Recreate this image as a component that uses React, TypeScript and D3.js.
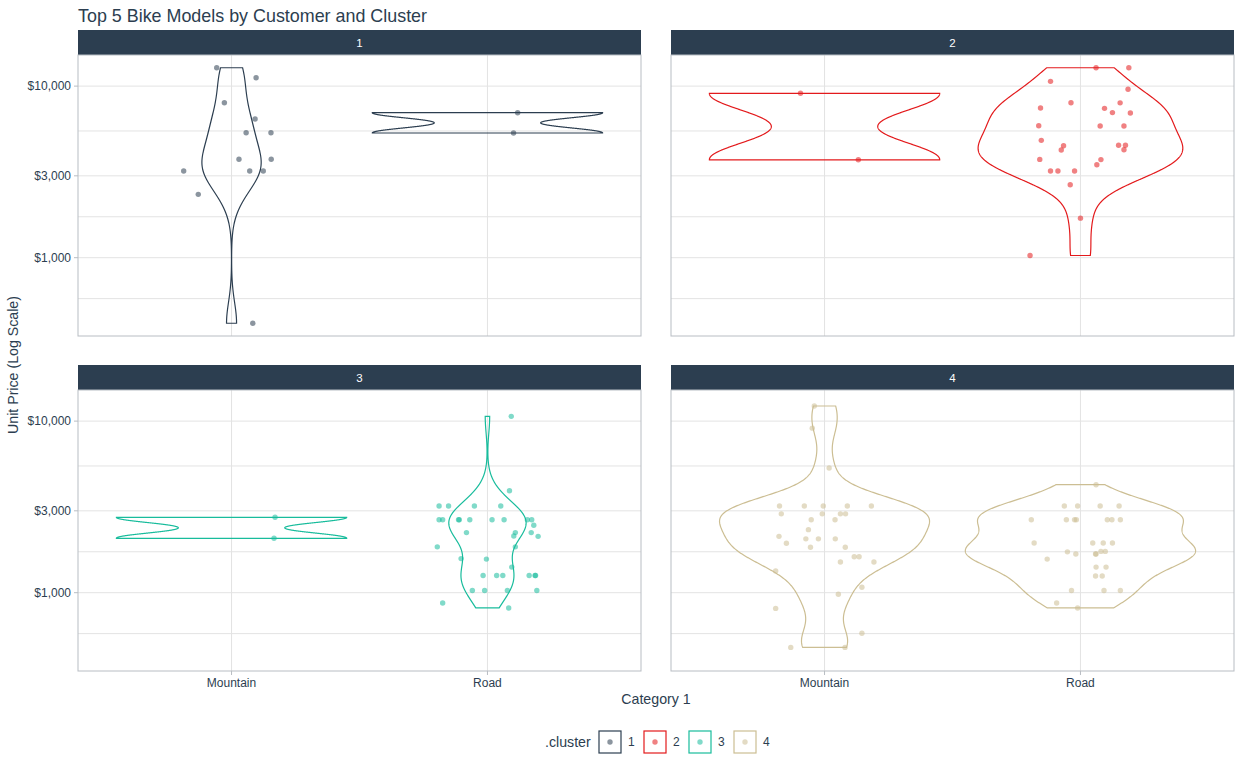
import React from "react";
import * as d3 from "d3";

// ---------------- DATA ----------------
const categories = ["Mountain", "Road"];
const clusters = ["1", "2", "3", "4"];
const clusterColors = ["#2c3e50", "#e31a1c", "#18BC9C", "#CCBE93"];
const yTickValues = [1000, 3000, 10000];

// cluster 1
const c1MountainPrice = [12790, 11190, 8000, 6430, 5350, 5350, 3745, 3745, 3200, 3200, 3200, 2340, 415];
const c1MountainJitter = [-0.058, 0.096, -0.028, 0.092, 0.057, 0.154, 0.029, 0.155, -0.187, 0.071, 0.124, -0.13, 0.083];
const c1RoadPrice = [7000, 5330];
const c1RoadJitter = [0.118, 0.102];

// cluster 2
const c2MountainPrice = [9080, 3720];
const c2MountainJitter = [-0.094, 0.132];
const c2RoadPrice = [12790, 12790, 10660, 9590, 8000, 7990, 7460, 7420, 7010, 6970, 5870, 5850, 5850, 4830, 4490, 4240, 4520, 4520, 4260, 3740, 3730, 3480, 3200, 3200, 3200, 2660, 1700, 1030];
const c2RoadJitter = [0.061, 0.189, -0.117, 0.186, -0.037, 0.155, -0.156, 0.094, 0.125, 0.195, -0.163, 0.077, 0.17, -0.153, -0.066, -0.075, 0.149, 0.176, 0.17, -0.159, 0.08, 0.064, -0.117, -0.088, -0.023, -0.04, 0.0, -0.197];

// cluster 3
const c3MountainPrice = [2750, 2075];
const c3MountainJitter = [0.17, 0.166];
const c3RoadPrice = [10660, 3930, 3200, 3200, 3200, 3200, 2660, 2660, 2660, 2660, 2660, 2660, 2660, 2660, 2660, 2470, 2240, 2240, 2140, 2240, 2130, 1850, 1850, 1580, 1570, 1410, 1260, 1260, 1260, 1260, 1260, 1260, 1030, 1030, 1030, 1030, 870, 815];
const c3RoadJitter = [0.093, 0.086, -0.189, -0.152, -0.051, 0.052, -0.189, -0.175, -0.113, -0.11, -0.069, 0.018, 0.065, 0.156, 0.173, 0.181, -0.082, 0.109, 0.103, 0.171, 0.198, -0.196, 0.109, -0.103, -0.004, 0.095, -0.017, 0.036, 0.06, 0.163, 0.186, 0.188, -0.059, -0.011, 0.078, 0.193, -0.175, 0.083];

// cluster 4
const c4MountainPrice = [12250, 9100, 5330, 3200, 3200, 3200, 3200, 3200, 2880, 2880, 2880, 2880, 2660, 2660, 2330, 2130, 2060, 2060, 2060, 1940, 1840, 1840, 1620, 1620, 1510, 1510, 1340, 1075, 980, 810, 580, 480, 480];
const c4MountainJitter = [-0.04, -0.048, 0.018, -0.176, -0.079, -0.005, 0.089, 0.183, -0.169, -0.009, 0.062, 0.082, -0.052, 0.041, -0.063, -0.178, -0.073, -0.024, 0.042, -0.149, -0.055, 0.081, 0.116, 0.135, 0.062, 0.193, -0.191, 0.146, 0.054, -0.191, 0.146, -0.132, 0.08];
const c4RoadPrice = [4260, 3200, 3200, 3200, 3200, 2660, 2660, 2660, 2660, 2660, 2660, 2660, 1950, 1950, 1950, 1950, 1730, 1680, 1680, 1680, 1740, 1740, 1570, 1410, 1410, 1250, 1250, 1030, 1030, 1030, 870, 815];
const c4RoadJitter = [0.061, -0.063, -0.011, 0.077, 0.151, -0.192, -0.055, -0.023, -0.016, 0.105, 0.123, 0.156, -0.181, 0.048, 0.089, 0.125, -0.051, -0.018, 0.059, 0.061, 0.08, 0.097, -0.13, 0.061, 0.1, 0.059, 0.085, -0.035, 0.092, 0.156, -0.093, -0.011];

const groups = [
  { cluster: "1", category: "Mountain", price: c1MountainPrice, jitter: c1MountainJitter },
  { cluster: "1", category: "Road", price: c1RoadPrice, jitter: c1RoadJitter },
  { cluster: "2", category: "Mountain", price: c2MountainPrice, jitter: c2MountainJitter },
  { cluster: "2", category: "Road", price: c2RoadPrice, jitter: c2RoadJitter },
  { cluster: "3", category: "Mountain", price: c3MountainPrice, jitter: c3MountainJitter },
  { cluster: "3", category: "Road", price: c3RoadPrice, jitter: c3RoadJitter },
  { cluster: "4", category: "Mountain", price: c4MountainPrice, jitter: c4MountainJitter },
  { cluster: "4", category: "Road", price: c4RoadPrice, jitter: c4RoadJitter },
];

// ---------------- LAYOUT ----------------
const W = 1242;
const H = 768;
const panelLefts = [78, 671];
const panelW = 563;
const stripTops = [30, 365];
const stripH = 25;
const panelH = 281;
const FONT = "'Liberation Sans', Arial, Helvetica, sans-serif";
const TEXT = "#2c3e50";
const GRID = "#e3e3e3";
const BORDER = "#b8bdc3";

function bwNrd0(x: number[]) {
  const n = x.length;
  const hi = d3.deviation(x) || 0;
  const s = x.slice().sort(d3.ascending);
  const iqr = (d3.quantileSorted(s, 0.75) as number) - (d3.quantileSorted(s, 0.25) as number);
  let lo = Math.min(hi, iqr / 1.34);
  if (!lo) lo = hi || Math.abs(x[0]) || 1;
  return 0.9 * lo * Math.pow(n, -0.2);
}

function kde(vals: number[]) {
  const bw = bwNrd0(vals);
  const [mn, mx] = d3.extent(vals) as [number, number];
  const N = 512;
  const out: { y: number; d: number }[] = [];
  for (let i = 0; i < N; i++) {
    const y = mn + ((mx - mn) * i) / (N - 1);
    let s = 0;
    for (const v of vals) {
      const z = (y - v) / bw;
      s += Math.exp(-0.5 * z * z);
    }
    out.push({ y, d: s / (vals.length * bw * Math.sqrt(2 * Math.PI)) });
  }
  return out;
}

export default function App() {
  const allLog = groups.flatMap((g) => g.price.map((p) => Math.log10(p)));
  const [lmin, lmax] = d3.extent(allLog) as [number, number];
  const r = lmax - lmin;
  const domain = [Math.pow(10, lmin - 0.05 * r), Math.pow(10, lmax + 0.05 * r)];

  // ggplot-style minor breaks (midpoints in log space)
  const majL = yTickValues.map((v) => Math.log10(v));
  const bd = majL[1] - majL[0];
  const ext = [majL[0] - bd, ...majL, majL[majL.length - 1] + bd];
  const minorL: number[] = [];
  for (let i = 0; i < ext.length - 1; i++) minorL.push((ext[i] + ext[i + 1]) / 2);
  const dLo = Math.log10(domain[0]);
  const dHi = Math.log10(domain[1]);
  const minorVals = minorL.filter((m) => m > dLo && m < dHi).map((m) => Math.pow(10, m));

  const panels = clusters.map((cl, i) => {
    const col = i % 2;
    const row = Math.floor(i / 2);
    const x0 = panelLefts[col];
    const top = stripTops[row] + stripH;
    const yScale = d3.scaleLog().domain(domain).range([top + panelH, top]);
    const xScale = d3.scalePoint<string>().domain(categories).range([x0, x0 + panelW]).padding(0.6);
    const step = xScale.step();
    const gs = groups.filter((g) => g.cluster === cl);
    const dens = gs.map((g) => kde(g.price.map((p) => Math.log10(p))));
    const maxD = d3.max(dens.flat(), (d) => d.d) as number;
    const color = clusterColors[i];
    const line = d3.line<[number, number]>().x((d) => d[0]).y((d) => d[1]);
    const violins = gs.map((g, gi) => {
      const cx = xScale(g.category) as number;
      const half = 0.45 * step;
      const left = dens[gi].map((d) => [cx - (d.d / maxD) * half, yScale(Math.pow(10, d.y))] as [number, number]);
      const right = dens[gi]
        .slice()
        .reverse()
        .map((d) => [cx + (d.d / maxD) * half, yScale(Math.pow(10, d.y))] as [number, number]);
      return line([...left, ...right]) + "Z";
    });
    return { cl, col, row, x0, top, yScale, xScale, step, gs, violins, color };
  });

  return (
    <svg
      width={W}
      height={H}
      style={{ position: "absolute", left: 0, top: 0, display: "block", background: "#fff" }}
      fontFamily={FONT}
    >
      <rect x={0} y={0} width={W} height={H} fill="#fff" />
      <text x={78} y={22} fontSize={17.9} fill={TEXT}>
        Top 5 Bike Models by Customer and Cluster
      </text>

      {panels.map((p) => (
        <g key={p.cl}>
          {/* strip */}
          <rect x={p.x0} y={p.top - stripH} width={panelW} height={stripH} fill="#2c3e50" />
          <text
            x={p.x0 + panelW / 2}
            y={p.top - stripH / 2}
            fontSize={11.5}
            fill="#fff"
            textAnchor="middle"
            dominantBaseline="central"
          >
            {p.cl}
          </text>
          {/* grid */}
          {minorVals.map((v) => (
            <line key={"mn" + v} x1={p.x0} x2={p.x0 + panelW} y1={p.yScale(v)} y2={p.yScale(v)} stroke={GRID} strokeWidth={1} />
          ))}
          {yTickValues.map((v) => (
            <line key={"mj" + v} x1={p.x0} x2={p.x0 + panelW} y1={p.yScale(v)} y2={p.yScale(v)} stroke={GRID} strokeWidth={1} />
          ))}
          {categories.map((c) => (
            <line
              key={"vx" + c}
              x1={p.xScale(c)}
              x2={p.xScale(c)}
              y1={p.top}
              y2={p.top + panelH}
              stroke={GRID}
              strokeWidth={1}
            />
          ))}
          {/* violins */}
          {p.violins.map((d, k) => (
            <path key={"v" + k} d={d} fill="none" stroke={p.color} strokeWidth={1.2} />
          ))}
          {/* jitter points */}
          {p.gs.map((g, gi) =>
            g.price.map((v, k) => (
              <circle
                key={"pt" + gi + "-" + k}
                cx={(p.xScale(g.category) as number) + g.jitter[k] * p.step}
                cy={p.yScale(v)}
                r={2.7}
                fill={p.color}
                fillOpacity={0.55}
              />
            ))
          )}
          {/* border */}
          <rect x={p.x0} y={p.top} width={panelW} height={panelH} fill="none" stroke={BORDER} strokeWidth={1} />
          {/* y axis */}
          {p.col === 0 &&
            yTickValues.map((v) => (
              <g key={"yt" + v}>
                <line x1={p.x0 - 4} x2={p.x0} y1={p.yScale(v)} y2={p.yScale(v)} stroke={BORDER} />
                <text
                  x={p.x0 - 7}
                  y={p.yScale(v)}
                  fontSize={12}
                  fill={TEXT}
                  textAnchor="end"
                  dominantBaseline="central"
                >
                  {d3.format("$,.0f")(v)}
                </text>
              </g>
            ))}
          {/* x axis */}
          {p.row === 1 &&
            categories.map((c) => (
              <g key={"xt" + c}>
                <line
                  x1={p.xScale(c)}
                  x2={p.xScale(c)}
                  y1={p.top + panelH}
                  y2={p.top + panelH + 4}
                  stroke={BORDER}
                />
                <text
                  x={p.xScale(c)}
                  y={p.top + panelH + 12}
                  fontSize={12}
                  fill={TEXT}
                  textAnchor="middle"
                  dominantBaseline="central"
                >
                  {c}
                </text>
              </g>
            ))}
        </g>
      ))}

      {/* axis titles */}
      <text x={656} y={699} fontSize={14.2} fill={TEXT} textAnchor="middle" dominantBaseline="central">
        Category 1
      </text>
      <text
        transform={`translate(13, ${(stripTops[0] + stripTops[1] + stripH + panelH + stripH) / 2 + 2}) rotate(-90)`}
        fontSize={14.2}
        fill={TEXT}
        textAnchor="middle"
        dominantBaseline="central"
      >
        Unit Price (Log Scale)
      </text>

      {/* legend */}
      <text x={545} y={742} fontSize={14.2} fill={TEXT} dominantBaseline="central">
        .cluster
      </text>
      {clusters.map((c, i) => {
        const bx = 599 + i * 45;
        return (
          <g key={"lg" + c}>
            <rect x={bx} y={731} width={22} height={22} fill="#fff" stroke={clusterColors[i]} strokeWidth={1.2} />
            <circle cx={bx + 11} cy={742} r={2.7} fill={clusterColors[i]} fillOpacity={0.55} />
            <text x={bx + 29} y={742} fontSize={12} fill={TEXT} dominantBaseline="central">
              {c}
            </text>
          </g>
        );
      })}
    </svg>
  );
}
